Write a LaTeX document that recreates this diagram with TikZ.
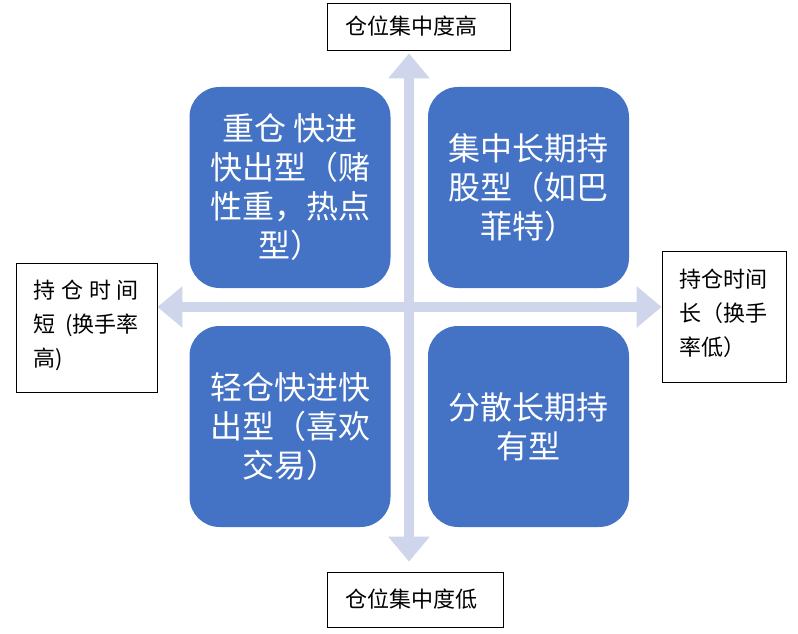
\documentclass[tikz,border=0pt]{standalone}
\usepackage{fontspec}
\setmainfont{Noto Sans CJK SC}
\usetikzlibrary{arrows.meta}
\definecolor{quadblue}{HTML}{4472C4}
\definecolor{axisgray}{HTML}{CFD5EA}
\newcommand{\lowpad}{\rule[-8pt]{0pt}{8pt}}

\begin{document}
\begin{tikzpicture}[x=1pt, y=-1pt,
  quad/.style={fill=quadblue, text=white, rounded corners=30pt, minimum width=201pt,
    minimum height=201pt, inner sep=0pt, align=center, font=\fontsize{32}{39}\selectfont},
  tag/.style={draw, line width=0.8pt, inner ysep=0pt, inner xsep=18pt, align=left,
    font=\fontsize{22}{34}\selectfont},
  axis/.style={draw=axisgray, line width=10.5pt,
    {Triangle[width=40pt,length=25pt]}-{Triangle[width=40pt,length=25pt]}}]
  \useasboundingbox (0,0) rectangle (798,634);

  \node[tag, text width=147pt, minimum height=47pt] (hiconc) at (418.5,26.5) {仓位集中度高};
  \node[tag, text width=140pt, minimum height=55pt] (loconc) at (415,599.5) {仓位集中度低};
  \node[tag, text width=105pt, minimum height=129pt] (shortterm) at (86.5,327.5)
    {持\hfill 仓\hfill 时\hfill 间\\短\hfill (换手率\\高)\lowpad};
  \node[tag, inner xsep=17pt, text width=90pt, minimum height=131pt] (longterm) at (724,316.5)
    {持仓时间\\长（换手\\率低）\lowpad};

  \coordinate (o) at (409,307);
  \draw[axis] (o -| shortterm.east) -- (o -| longterm.west);
  \draw[axis, shorten <=3pt, shorten >=10pt] (o |- hiconc.south) -- (o |- loconc.north);

  \node[quad] (heavy) at (290,187.5) {重仓 快进\\快出型（赌\\性重，热点\\型）};
  \node[quad] (buffett) at (528.5,187.5) {集中长期持\\股型（如巴\\菲特）};
  \node[quad] (light) at (290,426.5) {轻仓快进快\\出型（喜欢\\交易）};
  \node[quad] (spread) at (528.5,426.5) {分散长期持\\有型};
\end{tikzpicture}
\end{document}
